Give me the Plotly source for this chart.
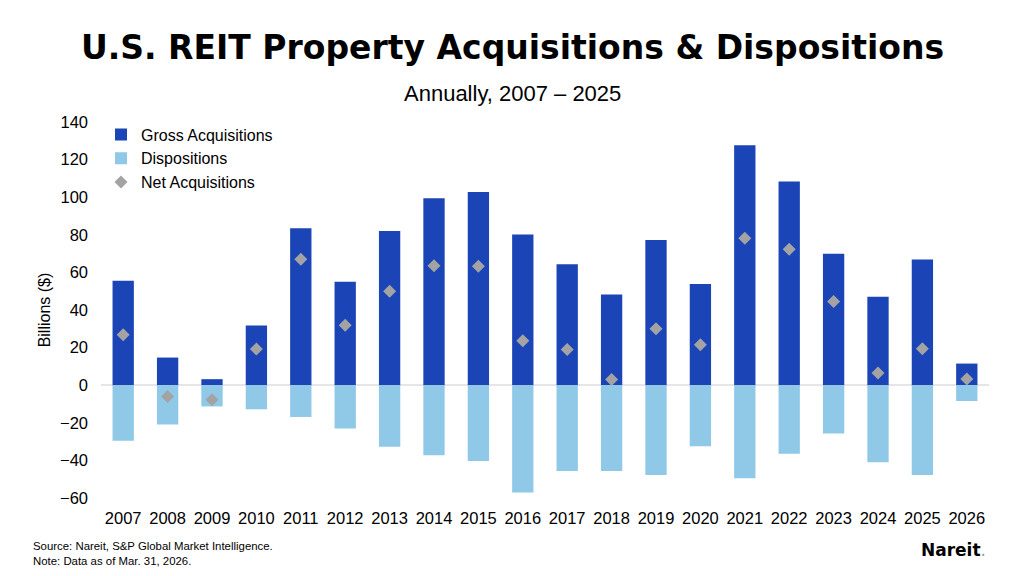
import plotly.graph_objects as go

years = [str(y) for y in range(2007, 2027)]
gross_acq = [55.5, 14.7, 3.2, 31.8, 83.5, 55.0, 82.0, 99.5, 102.7, 80.2,
             64.4, 48.3, 77.2, 53.8, 127.6, 108.4, 69.9, 47.0, 66.9, 11.5]
dispositions = [-29.6, -20.9, -11.3, -12.8, -16.9, -23.0, -32.8, -37.3, -40.3, -57.1,
                -45.6, -45.6, -47.7, -32.5, -49.5, -36.4, -25.7, -41.0, -47.7, -8.4]
net_acq = [26.8, -6.0, -7.8, 19.2, 67.0, 31.9, 50.0, 63.5, 63.3, 23.6,
           19.0, 3.0, 30.0, 21.5, 78.2, 72.3, 44.5, 6.5, 19.4, 3.3]
y_ticks = [-60, -40, -20, 0, 20, 40, 60, 80, 100, 120, 140]

FONT = "Liberation Sans, Arial, sans-serif"

fig = go.Figure()
fig.add_trace(go.Bar(x=years, y=gross_acq, name="Gross Acquisitions",
                     marker=dict(color="#1B44B6", line=dict(width=0))))
fig.add_trace(go.Bar(x=years, y=dispositions, name="Dispositions",
                     marker=dict(color="#8FC9E7", line=dict(width=0))))
fig.add_trace(go.Scatter(x=years, y=net_acq, name="Net Acquisitions", mode="markers",
                         marker=dict(symbol="diamond", size=10, color="#A3A3A3",
                                     line=dict(width=0))))

plot_l, plot_r = 101, 989
plot_t, plot_b = 122, 498

fig.update_layout(
    width=1024, height=576,
    margin=dict(l=plot_l, r=1024 - plot_r, t=plot_t, b=576 - plot_b, autoexpand=False),
    paper_bgcolor="white", plot_bgcolor="white",
    barmode="relative", bargap=0.52,
    font=dict(family=FONT, color="#000000", size=16),
    showlegend=True,
    legend=dict(x=0.0, y=1.012, xanchor="left", yanchor="top",
                bgcolor="rgba(0,0,0,0)", font=dict(size=16, color="#000"),
                itemwidth=30, tracegroupgap=0),
    xaxis=dict(type="category", range=[-0.5, 19.5], showgrid=False, showline=False,
               ticks="", tickfont=dict(size=16.5), ticklabelstandoff=8),
    yaxis=dict(range=[-60, 140], tickvals=y_ticks, showgrid=False, showline=False,
               zeroline=True, zerolinecolor="#E6E6E6", zerolinewidth=1.5,
               tickfont=dict(size=16.5), ticks="", ticklabelstandoff=12,
               title=dict(text="Billions ($)", font=dict(size=16), standoff=5)),
)

annots = [
    dict(text="<b>U.S. REIT Property Acquisitions &amp; Dispositions</b>",
         px=512, py=48, xanchor="center",
         font=dict(size=33, color="#000", family="DejaVu Sans, sans-serif")),
    dict(text="Annually, 2007 \u2013 2025",
         px=512, py=93, xanchor="center", font=dict(size=22, color="#000")),
    dict(text="Source: Nareit, S&amp;P Global Market Intelligence.<br>Note: Data as of Mar. 31, 2026.",
         px=31, py=553, xanchor="left", align="left", font=dict(size=11.4, color="#000")),
    dict(text="<b>Nareit</b><span style='color:#999'>.</span>",
         px=988, py=550, xanchor="right",
         font=dict(size=17, color="#000", family="DejaVu Sans, sans-serif")),
]
for a in annots:
    px, py = a.pop("px"), a.pop("py")
    fig.add_annotation(
        x=(px - plot_l) / (plot_r - plot_l), y=(plot_b - py) / (plot_b - plot_t),
        xref="paper", yref="paper", yanchor="middle", showarrow=False, **a)

fig.write_html("out.html")
